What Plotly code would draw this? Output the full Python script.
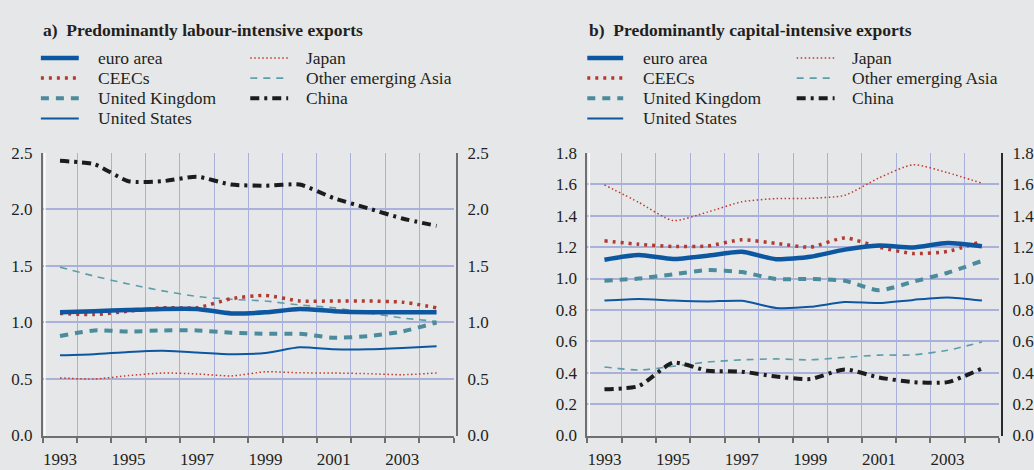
import plotly.graph_objects as go

years = [str(y) for y in range(1993, 2005)]
year_labels = [y if int(y) % 2 == 1 else "" for y in years]

# a) predominantly labour-intensive exports
labour = {
    "euro area": [1.09, 1.10, 1.11, 1.12, 1.12, 1.08, 1.09, 1.12, 1.10, 1.09, 1.09, 1.09],
    "CEECs": [1.08, 1.07, 1.10, 1.13, 1.13, 1.21, 1.24, 1.19, 1.19, 1.19, 1.18, 1.13],
    "United Kingdom": [0.88, 0.93, 0.92, 0.93, 0.93, 0.91, 0.90, 0.90, 0.865, 0.88, 0.92, 1.00],
    "United States": [0.71, 0.72, 0.74, 0.75, 0.735, 0.72, 0.73, 0.78, 0.763, 0.763, 0.775, 0.79],
    "Japan": [0.51, 0.50, 0.53, 0.553, 0.545, 0.527, 0.564, 0.555, 0.553, 0.547, 0.538, 0.553],
    "Other emerging Asia": [1.49, 1.41, 1.34, 1.28, 1.23, 1.205, 1.19, 1.155, 1.13, 1.085, 1.04, 1.01],
    "China": [2.43, 2.40, 2.25, 2.25, 2.29, 2.22, 2.21, 2.22, 2.10, 2.01, 1.92, 1.855],
}

# b) predominantly capital-intensive exports
capital = {
    "euro area": [1.12, 1.15, 1.124, 1.145, 1.17, 1.123, 1.139, 1.184, 1.21, 1.198, 1.226, 1.206],
    "CEECs": [1.24, 1.218, 1.204, 1.207, 1.247, 1.224, 1.20, 1.259, 1.20, 1.159, 1.173, 1.237],
    "United Kingdom": [0.986, 1.00, 1.027, 1.054, 1.041, 0.997, 0.997, 0.986, 0.925, 0.98, 1.037, 1.112],
    "United States": [0.86, 0.87, 0.86, 0.854, 0.858, 0.813, 0.82, 0.85, 0.844, 0.864, 0.88, 0.86],
    "Japan": [1.597, 1.485, 1.369, 1.423, 1.489, 1.509, 1.511, 1.53, 1.641, 1.725, 1.674, 1.607],
    "Other emerging Asia": [0.437, 0.417, 0.441, 0.468, 0.482, 0.488, 0.482, 0.498, 0.512, 0.514, 0.543, 0.596],
    "China": [0.295, 0.315, 0.464, 0.413, 0.407, 0.376, 0.36, 0.421, 0.37, 0.34, 0.34, 0.427],
}

styles = {
    "euro area": dict(color="#0d57a1", width=4.5, dash="solid"),
    "CEECs": dict(color="#b23a2f", width=3.5, dash="3px,5px"),
    "United Kingdom": dict(color="#4b8b9b", width=4, dash="8px,7px"),
    "United States": dict(color="#0d57a1", width=2, dash="solid"),
    "Japan": dict(color="#c0392b", width=1.5, dash="1.5px,2.5px"),
    "Other emerging Asia": dict(color="#5c9dac", width=1.6, dash="7px,6px"),
    "China": dict(color="#1c1c1c", width=4, dash="9px,5px,3px,5px"),
}
draw_order = ["Japan", "Other emerging Asia", "United States", "United Kingdom",
              "CEECs", "euro area", "China"]

W, H = 1034, 470
BG = "#e6e7e9"
GRID = "#a9b1da"
AXIS = "#6f6f72"
FONT = "Liberation Serif, Times New Roman, serif"
TXT = "#231f20"

fig = go.Figure()

# China goes on the right-hand (mirror) axis, which shares the same range,
# so that the right-hand tick labels get drawn
for data, xa, ya, ya_right in [(labour, "x", "y", "y3"), (capital, "x2", "y2", "y4")]:
    for name in draw_order:
        fig.add_trace(go.Scatter(
            x=years, y=data[name], mode="lines", name=name,
            line=dict(shape="spline", smoothing=0.6, **styles[name]),
            xaxis=xa, yaxis=ya_right if name == "China" else ya,
            showlegend=False, hoverinfo="skip",
        ))

def px(x):
    return x / W

def py(y):
    return 1 - y / H

ydom = [py(444.5), py(150)]

xcommon = dict(
    type="category", categoryorder="array", categoryarray=years,
    tickmode="array", tickvals=years, ticktext=year_labels, tickangle=0,
    tickson="boundaries", ticks="outside", ticklen=5, tickwidth=1.5, tickcolor=AXIS,
    ticklabelstandoff=7,
    showline=True, linecolor=AXIS, linewidth=2,
    showgrid=True, gridcolor=GRID, gridwidth=1,
    tickfont=dict(family=FONT, size=17, color=TXT),
    range=[-0.5, 11.5], fixedrange=True,
)
ycommon = dict(
    showgrid=True, gridcolor=GRID, gridwidth=1.5,
    zeroline=True, zerolinecolor="white", zerolinewidth=2,
    showline=True, linecolor=AXIS, linewidth=2,
    ticks="", tickformat=".1f", ticklabelstandoff=5,
    tickfont=dict(family=FONT, size=17, color=TXT),
    domain=ydom, fixedrange=True,
)
ymirror = dict(
    showgrid=False, zeroline=False, showline=True, linecolor=AXIS, linewidth=2,
    ticks="", tickformat=".1f", ticklabelstandoff=6, side="right",
    tickfont=dict(family=FONT, size=17, color=TXT), anchor="free", fixedrange=True,
)

fig.update_layout(
    width=W, height=H,
    margin=dict(l=0, r=0, t=0, b=0),
    paper_bgcolor=BG, plot_bgcolor=BG,
    xaxis=dict(domain=[px(43), px(455)], anchor="y", **xcommon),
    xaxis2=dict(domain=[px(589), px(1002)], anchor="y2", **xcommon),
    yaxis=dict(anchor="x", range=[0, 2.5], dtick=0.5, **ycommon),
    yaxis2=dict(anchor="x2", range=[0, 1.8], dtick=0.2, **ycommon),
    yaxis3=dict(overlaying="y", position=px(458.5), range=[0, 2.5], dtick=0.5, **ymirror),
    yaxis4=dict(overlaying="y2", position=px(1005), range=[0, 1.8], dtick=0.2,
                **{**ymirror, "linecolor": "#2a2a2a"}),
    showlegend=False,
)

shapes = []
annotations = []

# white highlight lines inside the left axes
for xr in ["x domain", "x2 domain"]:
    shapes.append(dict(type="line", xref=xr, yref="paper", xsizemode="pixel", xanchor=0,
                       x0=2, x1=2, y0=ydom[0], y1=ydom[1],
                       line=dict(color="white", width=1.5)))

# titles
for x, text in [(41, "a)\u00a0 Predominantly labour-intensive exports"),
                (589, "b)\u00a0 Predominantly capital-intensive exports")]:
    annotations.append(dict(x=px(x), y=py(22), xref="paper", yref="paper",
                            xanchor="left", yanchor="middle", showarrow=False,
                            text="<b>" + text + "</b>",
                            font=dict(family=FONT, size=17.5, color=TXT)))

# legends
legend_cols = [
    ["euro area", "CEECs", "United Kingdom", "United States"],
    ["Japan", "Other emerging Asia", "China"],
]
row_y = [51, 72, 93, 114]
legend_pos = [
    [(41, 79, 96), (251, 289, 305)],
    [(589, 625, 643), (799, 837, 852)],
]
for cols in legend_pos:
    for (lx0, lx1, tx), names in zip(cols, legend_cols):
        for name, yy in zip(names, row_y):
            st = styles[name]
            shapes.append(dict(type="line", xref="paper", yref="paper",
                               x0=px(lx0), x1=px(lx1), y0=py(yy), y1=py(yy),
                               line=dict(color=st["color"], width=st["width"], dash=st["dash"])))
            annotations.append(dict(x=px(tx), y=py(yy), xref="paper", yref="paper",
                                    xanchor="left", yanchor="middle", showarrow=False,
                                    text=name, font=dict(family=FONT, size=17.5, color=TXT)))

fig.update_layout(shapes=shapes, annotations=annotations)

# the page should hold only the chart, with no body margin around it
fig.write_html("out.html", config={"displayModeBar": False},
               post_script="document.body.style.margin='0';")
